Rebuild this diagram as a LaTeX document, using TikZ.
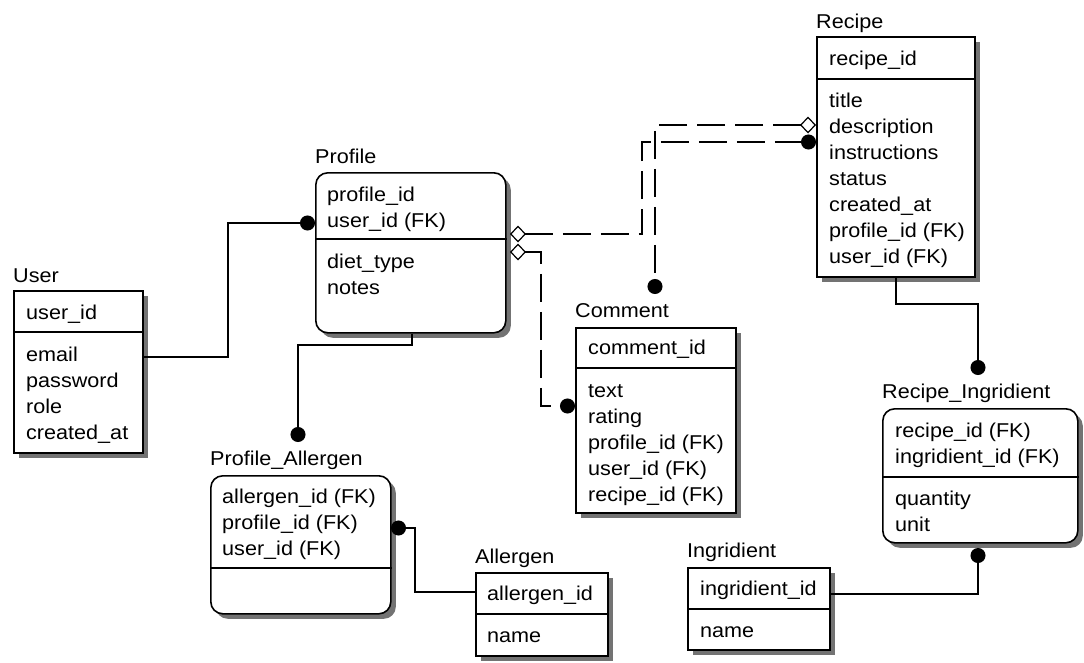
\documentclass[tikz,border=0pt]{standalone}
\usepackage{fontspec}
\setmainfont[FakeStretch=1.08]{Liberation Sans}
\usetikzlibrary{arrows.meta,shadows}
\newcommand\fsz{\fontsize{20}{24}\selectfont}
\tikzset{
  ent/.style={draw=black, line width=1.6pt, fill=white, inner sep=0pt, anchor=north west,
    drop shadow={shadow xshift=5pt, shadow yshift=-5pt, fill=black!55, opacity=1}},
  rnd/.style={rounded corners=12pt},
  fld/.style={anchor=base west, inner sep=0pt, font=\fsz},
  ttl/.style={anchor=base west, inner sep=0pt, font=\fsz},
  rel/.style={line width=1.4pt},
  dsh/.style={rel, dash pattern=on 28pt off 10pt},
  dotend/.style={-{Circle[length=15pt]}},
  diadot/.style={{Diamond[open,length=16pt,width=17pt,line width=1.2pt]}-{Circle[length=15pt]}},
}
\newcommand\mkent[7]{%
  \node[ent,#7,minimum width={#4-#2}, minimum height={#5-#3}] (#1) at (#2,#3) {};
  \draw[line width=1.6pt] (#1.west |- 0,#6) -- (#1.east |- 0,#6);
}
\newcommand\fields[4]{%
  \foreach \ft [count=\fidx from 1] in {#4} {\node[fld] (#1\fidx) at (#2,{#3+26*(\fidx-1)}) {\ft};}
}
\begin{document}
\begin{tikzpicture}[x=1pt,y=-1pt]
\useasboundingbox[fill=white] (0,0) rectangle (1084,662);

% User
\mkent{user}{13}{290}{142}{452}{332}{}
\node[ttl] (userT) at (13,282) {User};
\fields{uk}{26}{319}{user\_id}
\fields{ua}{26}{361}{email,password,role,created\_at}

% Profile
\mkent{profile}{315}{172}{505}{332}{239}{rnd}
\node[ttl] (profileT) at (315,163) {Profile};
\fields{pk}{327}{201}{profile\_id,user\_id (FK)}
\fields{pa}{327}{268}{diet\_type,notes}

% Recipe
\mkent{recipe}{816}{36}{974}{276}{79}{}
\node[ttl] (recipeT) at (816,28) {Recipe};
\fields{rk}{829}{65}{recipe\_id}
\fields{ra}{829}{107}{title,description,instructions,status,created\_at,profile\_id (FK),user\_id (FK)}

% Comment
\mkent{comment}{575}{327}{735}{512}{368}{}
\node[ttl] (commentT) at (575,317) {Comment};
\fields{ck}{588}{354}{comment\_id}
\fields{ca}{588}{397}{text,rating,profile\_id (FK),user\_id (FK),recipe\_id (FK)}

% Recipe_Ingridient
\mkent{ri}{882}{408}{1077}{542}{477}{rnd}
\node[ttl] (riT) at (882,398) {Recipe\_Ingridient};
\fields{rik}{895}{437}{recipe\_id (FK),ingridient\_id (FK)}
\fields{ria}{895}{505}{quantity,unit}

% Profile_Allergen
\mkent{pal}{210}{475}{390}{613}{568}{rnd}
\node[ttl] (palT) at (210,465) {Profile\_Allergen};
\fields{palk}{222}{503}{allergen\_id (FK),profile\_id (FK),user\_id (FK)}

% Allergen
\mkent{allergen}{475}{572}{607}{655}{614}{}
\node[ttl] (allergenT) at (475,563) {Allergen};
\fields{ak}{487}{600}{allergen\_id}
\fields{aa}{487}{642}{name}

% Ingridient
\mkent{ing}{687}{567}{829}{649}{609}{}
\node[ttl] (ingT) at (687,557) {Ingridient};
\fields{ik}{700}{595}{ingridient\_id}
\fields{ia}{700}{637}{name}

% free ends
\coordinate (cmtop) at (655,294);
\coordinate (paltop) at (298,442);
\coordinate (ritop) at (978,375);
\coordinate (ribot) at (978,548);
\coordinate (pe1) at (510,234);
\coordinate (pe2) at (510,252);
\coordinate (pale) at (391,528);

% connectors
\draw[rel,dotend] (user.east |- 0,357) -| (228,223) -- (profile.west |- 0,223);
\draw[dsh,diadot] (pe1) -| (642,142) -- (recipe.west |- 0,142);
\draw[dsh,diadot] (recipe.west |- 0,125) -| (cmtop);
\draw[dsh,diadot] (pe2) -| (541,406) -- (comment.west |- 0,406);
\draw[rel,dotend] (profile.south -| 412,0) -- (412,345) -| (paltop);
\draw[rel,dotend] (allergen.west |- 0,592) -- (415,592) -- (415,528) -- (pale);
\draw[rel,dotend] (recipe.south -| 896,0) -- (896,304) -| (ritop);
\draw[rel,dotend] (ing.east |- 0,594) -| (ribot);
\end{tikzpicture}
\end{document}
